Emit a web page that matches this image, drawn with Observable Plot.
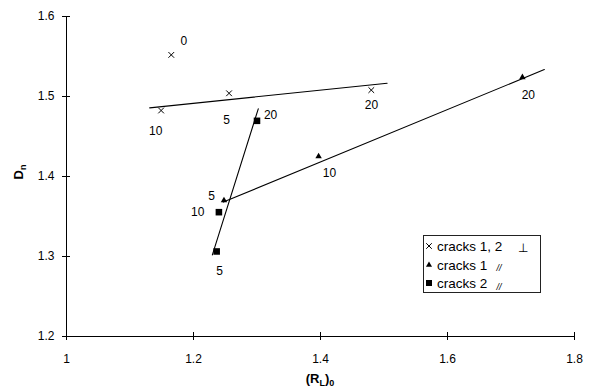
<!DOCTYPE html>
<html><head><meta charset="utf-8">
<script src="https://cdn.jsdelivr.net/npm/d3@7"></script>
<script src="https://cdn.jsdelivr.net/npm/@observablehq/plot@0.6"></script>
<style>
body{margin:0;background:#fff;font-family:"Liberation Sans",Arial,sans-serif}
#wrap{width:589px;height:389px}
</style></head><body><div id="wrap"></div>
<script>
// Tick values
const xTicks = [1, 1.2, 1.4, 1.6, 1.8];
const yTicks = [1.2, 1.3, 1.4, 1.5, 1.6];

// cracks 1, 2 (perpendicular) — crosses
const crossX = [1.165, 1.149, 1.256, 1.480];
const crossY = [1.552, 1.4825, 1.504, 1.508];
const crossLabels = ["0", "10", "5", "20"];
const crossLabelX = [1.1846, 1.1405, 1.2522, 1.4803];
const crossLabelY = [1.5688, 1.4563, 1.470, 1.4888];
const crossLineX = [1.131, 1.505];
const crossLineY = [1.4858, 1.5166];

// cracks 1 (parallel) — triangles
const triX = [1.248, 1.397, 1.718];
const triY = [1.370, 1.425, 1.524];
const triLabels = ["5", "10", "20"];
const triLabelX = [1.2286, 1.4142, 1.7273];
const triLabelY = [1.375, 1.4038, 1.5013];
const triLineX = [1.247, 1.7525];
const triLineY = [1.368, 1.5337];

// cracks 2 (parallel) — squares
const sqX = [1.2365, 1.240, 1.300];
const sqY = [1.3063, 1.3554, 1.4696];
const sqLabels = ["5", "10", "20"];
const sqLabelX = [1.2412, 1.2066, 1.3214];
const sqLabelY = [1.2813, 1.355, 1.4763];
const sqLineX = [1.2297, 1.302];
const sqLineY = [1.302, 1.4846];

const pts = (xs, ys) => xs.map((x, i) => ({x, y: ys[i]}));
const lbl = (xs, ys, t) => xs.map((x, i) => ({x, y: ys[i], t: t[i]}));

const plot = Plot.plot({
  width: 589, height: 389,
  marginLeft: 66, marginRight: 15, marginTop: 16, marginBottom: 53,
  style: {fontFamily: "'Liberation Sans', Arial, sans-serif", fontSize: "12px", color: "#000", background: "#fff"},
  x: {domain: [1, 1.8], label: null},
  y: {domain: [1.2, 1.6], label: null},
  marks: [
    Plot.ruleY([1.2], {stroke: "#000"}),
    Plot.ruleX([1], {stroke: "#000"}),
    Plot.axisX({ticks: xTicks, tickSize: 8, dy: -4, tickPadding: 14, tickFormat: d => String(d), label: null, fontSize: 12}),
    Plot.axisY({ticks: yTicks, tickSize: 8, dx: 4, tickPadding: 8, tickFormat: d => String(d), label: null, fontSize: 12}),
    Plot.line(pts(crossLineX, crossLineY), {x: "x", y: "y", stroke: "#000", strokeWidth: 1.1}),
    Plot.line(pts(triLineX, triLineY), {x: "x", y: "y", stroke: "#000", strokeWidth: 1.1}),
    Plot.line(pts(sqLineX, sqLineY), {x: "x", y: "y", stroke: "#000", strokeWidth: 1.1}),
    Plot.dot(pts(crossX, crossY), {x: "x", y: "y", symbol: "times", r: 2.7, stroke: "#000", strokeWidth: 1}),
    Plot.dot(pts(triX, triY), {x: "x", y: "y", symbol: "triangle", r: 2.4, fill: "#000"}),
    Plot.dot(pts(sqX, sqY), {x: "x", y: "y", symbol: "square", r: 3.7, fill: "#000"}),
    Plot.text(lbl(crossLabelX, crossLabelY, crossLabels), {x: "x", y: "y", text: "t", fontSize: 12, fill: "#000"}),
    Plot.text(lbl(triLabelX, triLabelY, triLabels), {x: "x", y: "y", text: "t", fontSize: 12, fill: "#000"}),
    Plot.text(lbl(sqLabelX, sqLabelY, sqLabels), {x: "x", y: "y", text: "t", fontSize: 12, fill: "#000"})
  ]
});

const svg = d3.select(plot);
// Axis titles with subscripts
const xl = svg.append("text").attr("x", 320).attr("y", 383).attr("text-anchor", "middle")
  .attr("font-weight", "bold").attr("font-size", 13).attr("fill", "#000");
xl.append("tspan").text("(R");
xl.append("tspan").attr("font-size", 9).attr("dy", 3).text("L");
xl.append("tspan").attr("dy", -3).text(")");
xl.append("tspan").attr("font-size", 9).attr("dy", 3).text("0");

const yl = svg.append("text").attr("transform", "translate(23,172) rotate(-90)").attr("text-anchor", "middle")
  .attr("font-weight", "bold").attr("font-size", 13).attr("fill", "#000");
yl.append("tspan").text("D");
yl.append("tspan").attr("font-size", 9).attr("dy", 3).text("n");

// Legend
const lg = svg.append("g");
lg.append("rect").attr("x", 423.5).attr("y", 235.5).attr("width", 117).attr("height", 57)
  .attr("fill", "#fff").attr("stroke", "#222");
const rows = [
  {sym: d3.symbolTimes, size: 22, fill: false, label: "cracks 1, 2", extra: "\u22A5", ex: 523, ey: 252, efs: 12, italic: false},
  {sym: d3.symbolTriangle, size: 16, fill: true, label: "cracks 1", extra: "//", ex: 499, ey: 271, efs: 9, italic: true},
  {sym: d3.symbolSquare, size: 36, fill: true, label: "cracks 2", extra: "//", ex: 499, ey: 290, efs: 9, italic: true}
];
const rowY = [246, 265, 283];
rows.forEach((r, i) => {
  lg.append("path").attr("d", d3.symbol(r.sym, r.size)())
    .attr("transform", `translate(429,${rowY[i]})`)
    .attr("fill", r.fill ? "#000" : "none").attr("stroke", r.fill ? "none" : "#000").attr("stroke-width", 1);
  lg.append("text").attr("x", 437).attr("y", rowY[i] + 4.5).attr("text-anchor", "start")
    .attr("font-size", 13.5).attr("fill", "#000").text(r.label);
  lg.append("text").attr("x", r.ex).attr("y", r.ey).attr("text-anchor", "middle").attr("font-size", r.efs)
    .attr("font-style", r.italic ? "italic" : "normal").attr("fill", "#000").text(r.extra);
});

document.getElementById("wrap").appendChild(plot);
</script>
</body></html>
